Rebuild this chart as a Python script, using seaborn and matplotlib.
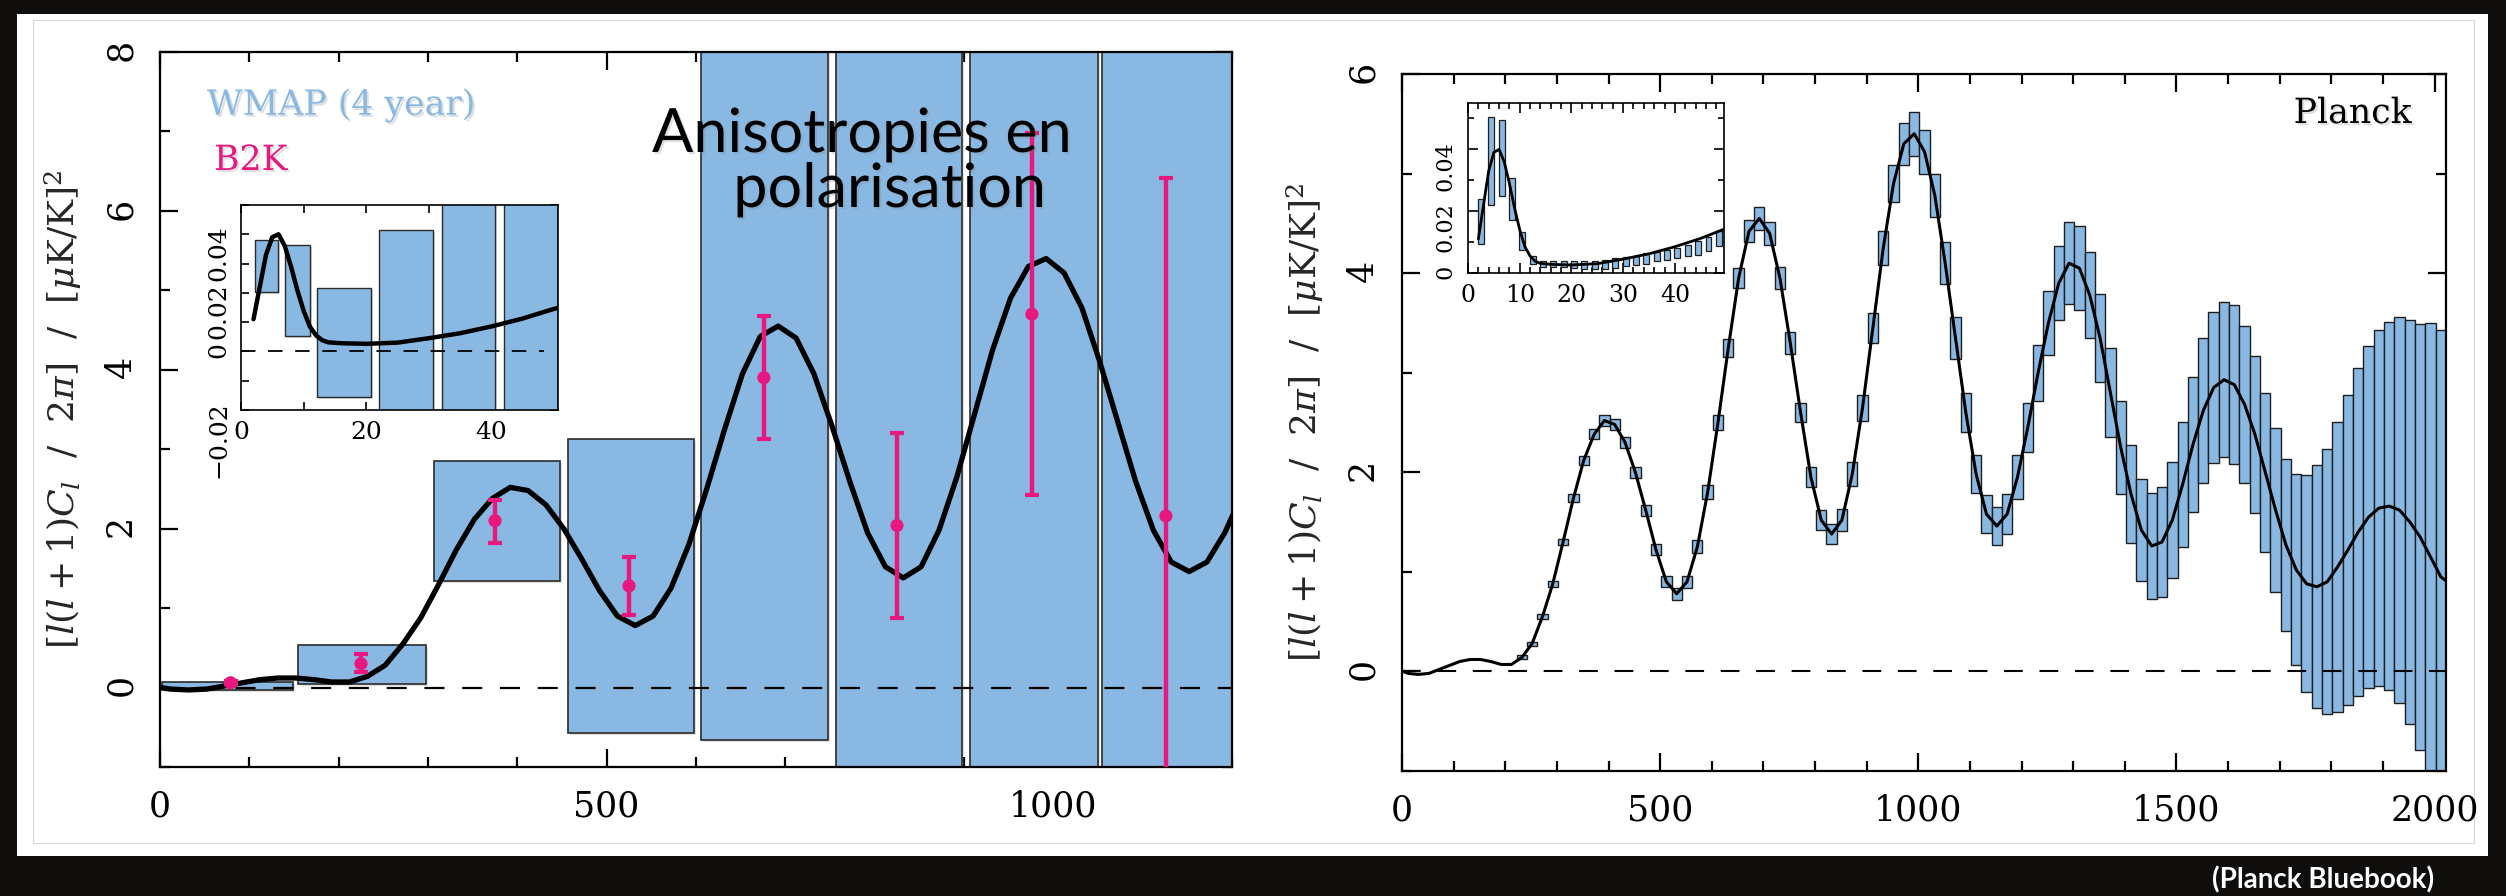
import numpy as np
import pandas as pd
import matplotlib.pyplot as plt
import matplotlib.patheffects as pe
from matplotlib.patches import Rectangle
from matplotlib.ticker import MultipleLocator, FuncFormatter
import seaborn as sns

sns.set_style("ticks")
plt.rcParams['font.family'] = ['DejaVu Serif']
plt.rcParams['mathtext.fontset'] = 'dejavuserif'

WMAP_BLUE = "#89b9e3"
B2K_PINK = "#e8187f"

# theory EE spectrum (same curve in both panels)
ell_theory = [2, 12, 32, 52, 72, 92, 112, 132, 152, 172, 192, 212, 232, 252, 272, 292,
              312, 332, 352, 372, 392, 412, 432, 452, 472, 492, 512, 532, 552, 572, 592,
              612, 632, 652, 672, 692, 712, 732, 752, 772, 792, 812, 832, 852, 872, 892,
              912, 932, 952, 972, 992, 1012, 1032, 1052, 1072, 1092, 1112, 1132, 1152,
              1172, 1192, 1212, 1232, 1252, 1272, 1292, 1312, 1332, 1352, 1372, 1392,
              1412, 1432, 1452, 1472, 1492, 1512, 1532, 1552, 1572, 1592, 1612, 1632,
              1652, 1672, 1692, 1712, 1732, 1752, 1772, 1792, 1812, 1832, 1852, 1872,
              1892, 1912, 1932, 1952, 1972, 1992, 2012, 2022]
ee_theory = [0.00, -0.02, -0.03, -0.02, 0.02, 0.06, 0.10, 0.12, 0.12, 0.10, 0.07, 0.07,
             0.14, 0.28, 0.55, 0.88, 1.30, 1.74, 2.12, 2.38, 2.52, 2.48, 2.30, 2.00, 1.62,
             1.22, 0.90, 0.78, 0.90, 1.25, 1.80, 2.50, 3.25, 3.95, 4.42, 4.55, 4.40, 3.95,
             3.30, 2.60, 1.95, 1.52, 1.38, 1.52, 1.98, 2.65, 3.45, 4.25, 4.90, 5.30, 5.40,
             5.22, 4.78, 4.10, 3.35, 2.60, 1.98, 1.58, 1.46, 1.58, 1.95, 2.45, 3.00, 3.50,
             3.90, 4.10, 4.05, 3.78, 3.35, 2.80, 2.25, 1.78, 1.42, 1.26, 1.30, 1.52, 1.88,
             2.28, 2.62, 2.85, 2.93, 2.88, 2.68, 2.38, 2.00, 1.62, 1.27, 1.02, 0.88, 0.85,
             0.90, 1.05, 1.22, 1.40, 1.55, 1.64, 1.66, 1.62, 1.50, 1.35, 1.15, 0.95, 0.91]

# low-ell theory (insets)
ell_low = [2, 3, 4, 5, 6, 7, 8, 9, 10, 11, 12, 13, 14, 16, 18, 20, 25, 30, 35, 40, 45, 50, 51]
ee_low = [0.011, 0.022, 0.033, 0.039, 0.040, 0.036, 0.029, 0.021, 0.014, 0.0085, 0.0055,
          0.0038, 0.0031, 0.0028, 0.0027, 0.0026, 0.0030, 0.0045, 0.0062, 0.0085, 0.0112,
          0.0145, 0.0150]

# WMAP 4-year band powers (main left panel)
wmap_lo = [2, 155, 307, 457, 606, 757, 907, 1055]
wmap_hi = [149, 298, 448, 598, 748, 898, 1050, 1200]
wmap_bottom = [-0.03, 0.04, 1.34, -0.57, -0.66, -3.0, -3.0, -3.0]
wmap_top = [0.07, 0.54, 2.85, 3.13, 12.0, 12.0, 12.0, 12.0]

# WMAP low-ell bands (left inset)
wlow_lo = [2.2, 7.1, 12.2, 22.1, 32.2, 42.1]
wlow_hi = [5.9, 11.0, 20.8, 30.7, 40.6, 50.7]
wlow_bottom = [0.0203, 0.0053, -0.0154, -0.05, -0.05, -0.05]
wlow_top = [0.0379, 0.0363, 0.0216, 0.0415, 0.08, 0.08]

# B2K polarisation points
ell_b2k = [79, 225, 375, 525, 676, 825, 976, 1126]
ee_b2k = [0.06, 0.30, 2.10, 1.28, 3.90, 2.04, 4.70, 2.16]
b2k_top = [0.08, 0.42, 2.36, 1.64, 4.68, 3.20, 6.98, 6.41]
b2k_bot = [0.04, 0.19, 1.82, 0.91, 3.13, 0.87, 2.43, -1.60]

# Planck forecast error boxes (bins of 20 in ell, centred on the curve)
planck_ell = ell_theory[12:-1]
planck_mid = ee_theory[12:-1]
planck_err = [0.02, 0.02, 0.025, 0.03, 0.035, 0.04, 0.045, 0.05, 0.055, 0.055, 0.055,
              0.055, 0.055, 0.055, 0.055, 0.06, 0.06, 0.065, 0.07, 0.08, 0.09, 0.10,
              0.11, 0.115, 0.115, 0.11, 0.11, 0.10, 0.10, 0.10, 0.10, 0.11, 0.12, 0.13,
              0.15, 0.17, 0.19, 0.21, 0.22, 0.22, 0.22, 0.21, 0.21, 0.20, 0.19, 0.19,
              0.19, 0.20, 0.22, 0.25, 0.28, 0.32, 0.37, 0.41, 0.42, 0.43, 0.44, 0.45,
              0.47, 0.49, 0.51, 0.53, 0.55, 0.58, 0.63, 0.68, 0.73, 0.76, 0.78, 0.80,
              0.79, 0.79, 0.80, 0.82, 0.86, 0.96, 1.09, 1.22, 1.33, 1.46, 1.56, 1.65,
              1.72, 1.79, 1.85, 1.94, 2.03, 2.14, 2.35, 2.48]

# Planck low-ell boxes (right inset)
plow_ell = [2.5, 4.5, 6.5, 8.5, 10.5, 12.5, 14.5, 16.5, 18.5, 20.5, 22.5, 24.5, 26.5,
            28.5, 30.5, 32.5, 34.5, 36.5, 38.5, 40.5, 42.5, 44.5, 46.5, 48.5]
plow_top = [0.0240, 0.0505, 0.0495, 0.0308, 0.0132, 0.0054, 0.0040, 0.0040, 0.0040,
            0.0038, 0.0038, 0.0040, 0.0043, 0.0049, 0.0052, 0.0056, 0.0065, 0.0068,
            0.0073, 0.0081, 0.0092, 0.0103, 0.0116, 0.0135]
plow_bot = [0.0095, 0.0219, 0.0249, 0.0170, 0.0076, 0.0030, 0.0019, 0.0019, 0.0018,
            0.0016, 0.0014, 0.0014, 0.0014, 0.0016, 0.0022, 0.0025, 0.0029, 0.0038,
            0.0043, 0.0049, 0.0054, 0.0059, 0.0070, 0.0086]

W, H = 2506, 896
def fx(px):
    return px / W
def fy(py):
    return 1 - py / H
def box(left, top, right, bottom):
    return [fx(left), fy(bottom), (right - left) / W, (bottom - top) / H]

fig = plt.figure(figsize=(W / 100, H / 100), dpi=100)
fig.patch.set_facecolor("#100e0c")
fig.patches.append(Rectangle((fx(17), fy(856)), (2488 - 17) / W, (856 - 14) / H,
                             transform=fig.transFigure, facecolor="white",
                             edgecolor="none", zorder=-2))
fig.patches.append(Rectangle((fx(33), fy(843)), (2474 - 33) / W, (843 - 20) / H,
                             transform=fig.transFigure, facecolor="none",
                             edgecolor="#d8d8d8", lw=0.8, zorder=-1))

shadow = [pe.withSimplePatchShadow(offset=(1.5, -1.5), shadow_rgbFace="0.5", alpha=0.25)]
ylab = r'$[l(l+1)C_l\ \ /\ \ 2\pi]\ \ /\ \ [\mu\mathrm{K/K}]^2$'


def style(ax, xmaj, xmin, ymaj, ymin, fs, lw, majlen, minlen, pad):
    ax.xaxis.set_major_locator(MultipleLocator(xmaj))
    ax.xaxis.set_minor_locator(MultipleLocator(xmin))
    ax.yaxis.set_major_locator(MultipleLocator(ymaj))
    ax.yaxis.set_minor_locator(MultipleLocator(ymin))
    ax.tick_params(which="both", direction="in", top=True, right=True, width=lw,
                   colors="black", labelsize=fs, pad=pad)
    ax.tick_params(which="major", length=majlen)
    ax.tick_params(which="minor", length=minlen)
    ax.tick_params(axis="y", labelrotation=90)
    for s in ax.spines.values():
        s.set_linewidth(lw)
        s.set_color("black")
    ax.set_facecolor("white")


def small_fmt(v, pos):
    if abs(v) < 1e-9:
        return "0"
    return f"{v:.2f}".replace("-", "\u2212")


# ---------------- left panel: WMAP + B2K ----------------
ax1 = fig.add_axes(box(160, 52, 1232, 767))
ax1.bar(wmap_lo, np.subtract(wmap_top, wmap_bottom), bottom=wmap_bottom,
        width=np.subtract(wmap_hi, wmap_lo), align="edge", color=WMAP_BLUE,
        edgecolor="#2b2b2b", lw=1.2, zorder=1, path_effects=shadow)
ax1.axhline(0, color="black", lw=1.6, ls=(0, (9, 8)), zorder=2)
sns.lineplot(x=ell_theory, y=ee_theory, ax=ax1, color="black", lw=3.8,
             estimator=None, sort=False, zorder=3)
ax1.errorbar(ell_b2k, ee_b2k,
             yerr=[np.subtract(ee_b2k, b2k_bot), np.subtract(b2k_top, ee_b2k)],
             fmt="none", ecolor=B2K_PINK, elinewidth=3.2, capsize=5, capthick=3, zorder=4)
sns.scatterplot(x=ell_b2k, y=ee_b2k, ax=ax1, color=B2K_PINK, s=90, edgecolor="none",
                zorder=5)
ax1.set_xlim(0, 1200)
ax1.set_ylim(-1, 8)
style(ax1, 500, 100, 2, 1, 25, 1.6, 13, 7, 16)
ax1.set_ylabel(ylab, fontsize=26, labelpad=14)
ax1.set_xlabel("")

# left inset
ax1i = fig.add_axes(box(241, 205, 558, 410), zorder=6)
ax1i.bar(wlow_lo, np.subtract(wlow_top, wlow_bottom), bottom=wlow_bottom,
         width=np.subtract(wlow_hi, wlow_lo), align="edge", color=WMAP_BLUE,
         edgecolor="#2b2b2b", lw=1.0, zorder=1, path_effects=shadow)
ax1i.axhline(0, xmax=0.955, color="black", lw=1.3, ls=(0, (8, 7)), zorder=2)
sns.lineplot(x=ell_low, y=ee_low, ax=ax1i, color="black", lw=3.2,
             estimator=None, sort=False, zorder=3)
ax1i.set_xlim(0, 50.7)
ax1i.set_ylim(-0.02, 0.05)
style(ax1i, 20, 10, 0.02, 0.01, 18, 1.2, 6, 6, 8)
ax1i.yaxis.set_major_formatter(FuncFormatter(small_fmt))

# ---------------- right panel: Planck ----------------
ax2 = fig.add_axes(box(1402, 74, 2446, 771))
ax2.bar(planck_ell, np.multiply(planck_err, 2), bottom=np.subtract(planck_mid, planck_err),
        width=20, color=WMAP_BLUE, edgecolor="#1e1e1e", lw=1.0, zorder=1)
ax2.axhline(0, color="black", lw=1.5, ls=(0, (9, 8)), zorder=2)
sns.lineplot(x=ell_theory, y=ee_theory, ax=ax2, color="black", lw=2.2,
             estimator=None, sort=False, zorder=3)
ax2.set_xlim(0, 2022)
ax2.set_ylim(-1, 6)
style(ax2, 500, 100, 2, 1, 25, 1.6, 13, 7, 16)
ax2.set_ylabel(ylab, fontsize=26, labelpad=14)

# right inset
ax2i = fig.add_axes(box(1468, 103, 1724, 273), zorder=6)
ax2i.bar(plow_ell, np.subtract(plow_top, plow_bot), bottom=plow_bot, width=1.15,
         color=WMAP_BLUE, edgecolor="#1e1e1e", lw=0.9, zorder=1)
sns.lineplot(x=ell_low, y=ee_low, ax=ax2i, color="black", lw=2.0,
             estimator=None, sort=False, zorder=3)
ax2i.set_xlim(0, 49.5)
ax2i.set_ylim(0, 0.055)
style(ax2i, 10, 2, 0.02, 0.01, 17, 1.2, 7, 4, 8)
ax2i.tick_params(axis="y", labelsize=16)
ax2i.yaxis.set_major_formatter(FuncFormatter(small_fmt))

# ---------------- texts ----------------
fig.text(fx(207), fy(105), "WMAP (4 year)", fontsize=25, color=WMAP_BLUE,
         ha="left", va="center", path_effects=shadow)
fig.text(fx(214), fy(160), "B2K", fontsize=25, color=B2K_PINK,
         ha="left", va="center", path_effects=shadow)
fig.text(fx(2412), fy(113), "Planck", fontsize=25, color="black",
         ha="right", va="center", path_effects=shadow)
fig.text(fx(862), fy(152), "Anisotropies en", fontsize=44, family="Lato",
         color="black", ha="center", va="baseline", path_effects=shadow, zorder=10)
fig.text(fx(890), fy(207), "polarisation", fontsize=44, family="Lato",
         color="black", ha="center", va="baseline", path_effects=shadow, zorder=10)
fig.text(fx(2323), fy(880), "(Planck Bluebook)", fontsize=20, family="Lato",
         weight="bold", color="white", ha="center", va="center")

fig.savefig("out.png", dpi=100, facecolor=fig.get_facecolor())
